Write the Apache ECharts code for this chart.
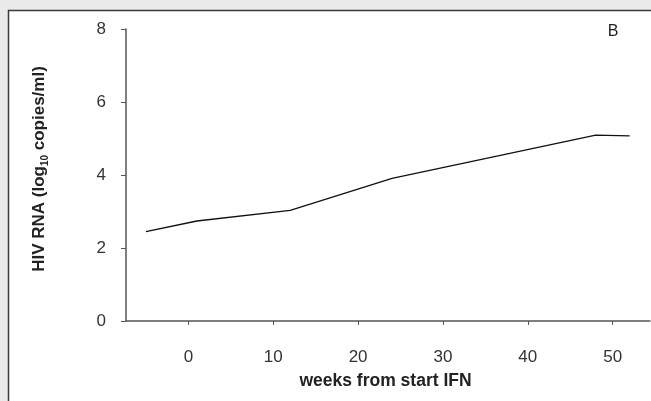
<!DOCTYPE html>
<html>
<head>
<meta charset="utf-8">
<script src="https://cdn.jsdelivr.net/npm/echarts@6/dist/echarts.min.js"></script>
<style>html,body{margin:0;padding:0;background:#eaeaeb;}#c{width:651px;height:401px;}</style>
</head>
<body>
<div id="c"></div>
<script>
const weeks = [-5, 1, 12, 24, 48, 52];
const hivRna = [2.45, 2.74, 3.03, 3.91, 5.09, 5.07];
const xTicks = [0, 10, 20, 30, 40, 50];
const yTicks = [0, 2, 4, 6, 8];

const chart = echarts.init(document.getElementById('c'), null, {renderer: 'canvas'});
const font = '"Liberation Sans", Arial, sans-serif';
chart.setOption({
  backgroundColor: '#eaeaeb',
  animation: false,
  graphic: [
    {type: 'rect', z: -10, shape: {x: 8.5, y: 10.5, width: 700, height: 500},
     style: {fill: '#ffffff', stroke: '#3a3a3a', lineWidth: 1.5}},
    {type: 'text', x: 613, y: 32, style: {text: 'B', fontSize: 16, fontFamily: font, fill: '#222', align: 'center', verticalAlign: 'middle'}}
  ],
  grid: {left: 126, top: 29, right: 1, bottom: 80},
  xAxis: {
    type: 'value', min: -7.35, max: 54.4,
    name: 'weeks from start IFN', nameLocation: 'middle', nameGap: 51,
    nameTextStyle: {fontFamily: font, fontWeight: 'bold', fontSize: 17.5, color: '#222', padding: [0, 5, 0, 0]},
    axisLine: {show: true, onZero: false, lineStyle: {color: '#555', width: 1.5}},
    axisTick: {show: true, length: 4, customValues: xTicks, lineStyle: {color: '#555'}},
    axisLabel: {customValues: xTicks, margin: 28, fontFamily: font, fontSize: 17, color: '#333'},
    splitLine: {show: false}
  },
  yAxis: {
    type: 'value', min: 0, max: 8, interval: 2,
    name: 'HIV RNA ({sub|log}{s|10}{sub| copies/ml})', nameLocation: 'middle', nameGap: 76,
    nameTextStyle: {fontFamily: font, fontWeight: 'bold', fontSize: 17, color: '#222', padding: [0, 0, 0, 12],
      rich: {
        sub: {fontFamily: font, fontWeight: 'bold', fontSize: 17, color: '#222'},
        s: {fontFamily: font, fontWeight: 'bold', fontSize: 10, color: '#222', verticalAlign: 'bottom', padding: [12, 0, 0, 0]}
      }},
    axisLine: {show: true, onZero: false, lineStyle: {color: '#555', width: 1.5}},
    axisTick: {show: true, length: 5, lineStyle: {color: '#555'}},
    axisLabel: {margin: 20, fontFamily: font, fontSize: 17, color: '#333'},
    splitLine: {show: false}
  },
  series: [{
    type: 'line',
    data: weeks.map((w, i) => [w, hivRna[i]]),
    showSymbol: false, symbol: 'none',
    lineStyle: {color: '#111', width: 1.3}
  }]
});
</script>
</body>
</html>
